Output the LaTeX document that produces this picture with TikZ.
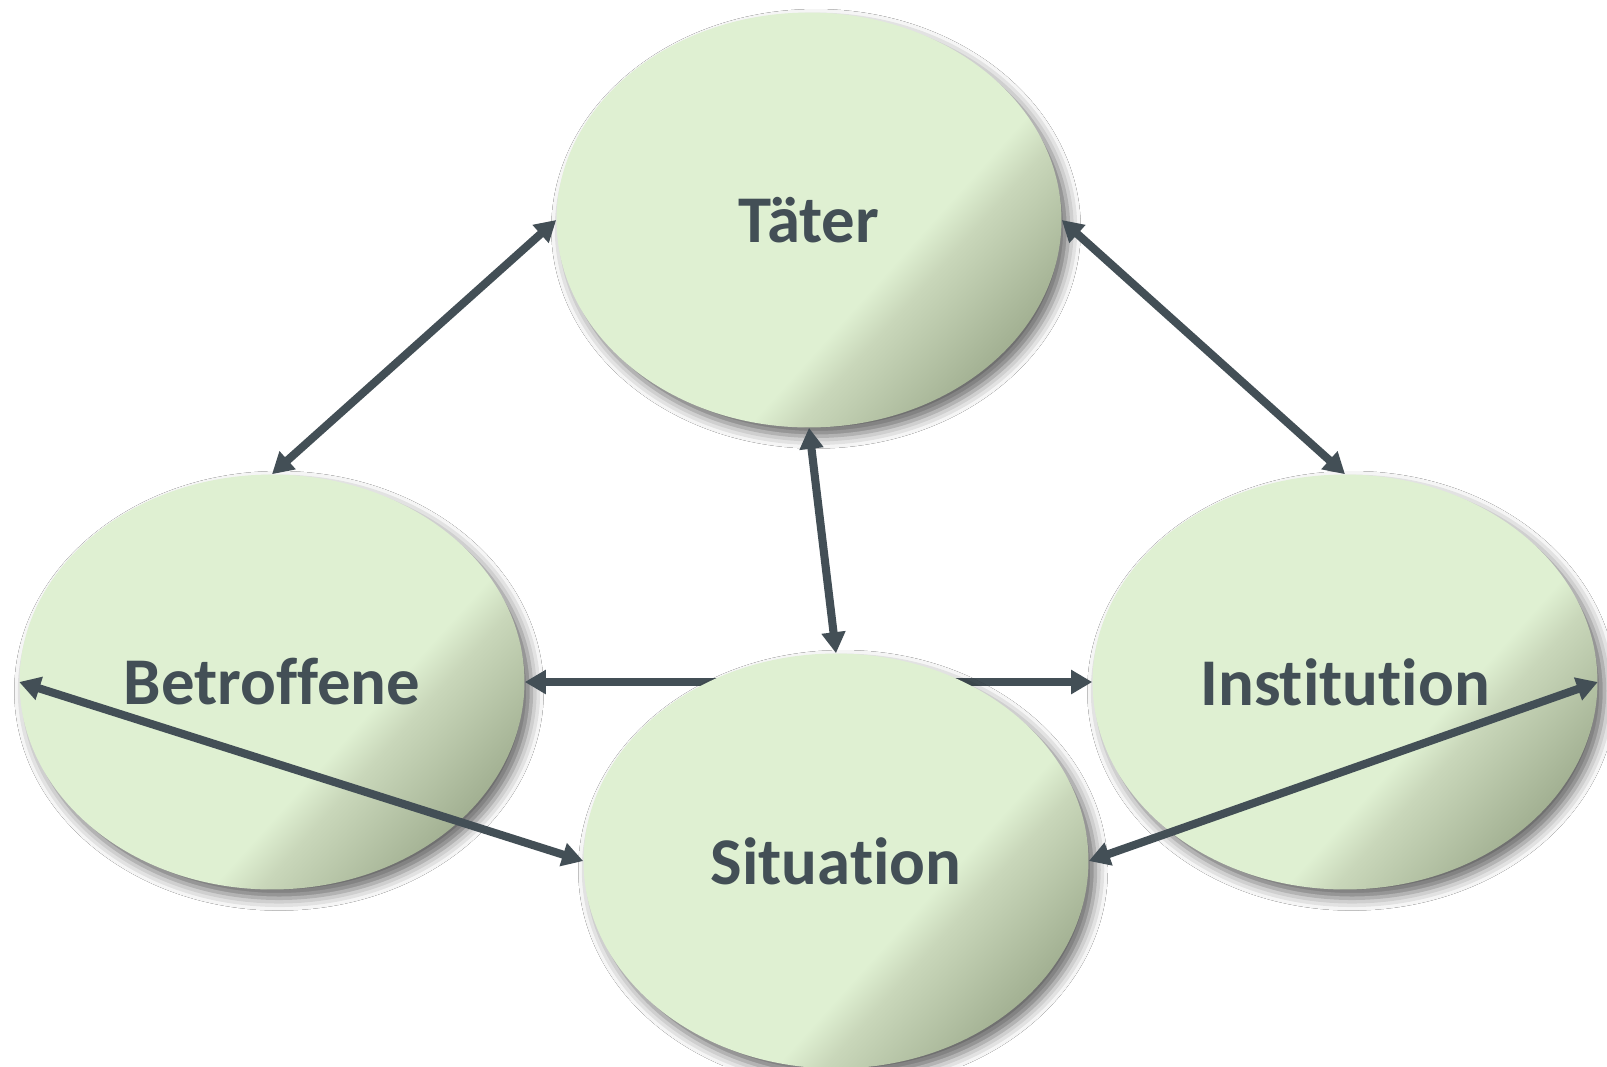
\documentclass[tikz,border=0pt]{standalone}
\usepackage{fontspec}
\setmainfont{Carlito}[Ligatures=NoCommon]
\usetikzlibrary{arrows.meta,shapes.geometric,shadows.blur}

\definecolor{ovalgreen}{HTML}{DFF0D2}
\definecolor{ovalmid}{HTML}{C9D7BA}
\definecolor{ovaldark}{HTML}{A3B193}
\definecolor{linegray}{HTML}{434F56}
\pgfdeclarehorizontalshading{ovalshade}{100bp}{color(0bp)=(ovalgreen); color(60bp)=(ovalgreen); color(64bp)=(ovalmid); color(75bp)=(ovaldark); color(100bp)=(ovaldark)}

\tikzset{
  oval/.style={ellipse, minimum width=10.1cm, minimum height=8.3cm, inner sep=0pt, shading=ovalshade, shading angle=-42,
    blur shadow={shadow xshift=4pt, shadow yshift=-5pt, shadow blur radius=7pt, shadow opacity=60},
    text=linegray, font=\fontsize{38}{40}\selectfont\bfseries},
  link/.style={draw=linegray, line width=4.6pt, {Triangle[length=0.42cm,width=0.46cm]}-{Triangle[length=0.42cm,width=0.46cm]}}
}

\begin{document}
\begin{tikzpicture}[x=0.02cm,y=-0.02cm]
              \clip (0,0) rectangle (1607,1066);
              \fill[white] (0,0) rectangle (1607,1066);
              \node[oval](taeter)at(809,220){Täter};
              \node[oval](betroffene)at(272,682){Betroffene};
              \node[oval](institution)at(1345,682){Institution};
              \draw[link] (betroffene.east)--(institution.west);
              \node[oval](situation)at(836,861){Situation};
              \draw[link] (betroffene.north)--(taeter.west);
              \draw[link] (taeter.east)--(institution.north);
              \draw[link] (taeter.south)--(situation.north);
              \draw[link] (betroffene.west)--(situation.west);
              \draw[link] (situation.east)--(institution.east);
            \end{tikzpicture}
\end{document}
